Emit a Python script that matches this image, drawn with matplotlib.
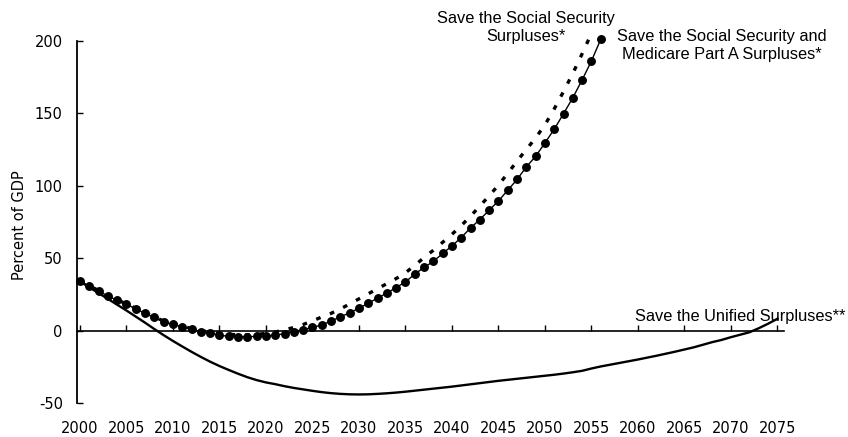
import numpy as np
import matplotlib
matplotlib.use("Agg")
import matplotlib.pyplot as plt

plt.rcParams['axes.unicode_minus'] = False

# Save the Social Security and Medicare Part A Surpluses (solid, with markers)
years_ssmed = np.arange(2000, 2057)
debt_ssmed = [34.4, 30.8, 27.6, 23.9, 21.1, 18.2, 15.2, 12.0, 9.2, 6.2,
              4.4, 2.8, 0.9, -0.8, -1.6, -3.1, -3.8, -4.1, -4.2, -3.8,
              -3.7, -3.0, -2.0, -0.6, 0.8, 2.3, 4.0, 6.7, 9.6, 12.4,
              15.5, 19.0, 22.5, 26.0, 29.8, 33.7, 39.0, 43.7, 47.8, 53.3,
              58.5, 64.3, 70.9, 76.7, 83.1, 89.5, 96.9, 104.3, 113.0, 120.3,
              129.5, 139.0, 149.7, 160.7, 173.0, 186.0, 201.0]

# Save the Social Security Surpluses (dotted)
years_ss = np.arange(2000, 2056)
debt_ss = [34.6, 31.0, 27.8, 24.2, 21.4, 18.5, 15.5, 12.4, 9.6, 6.7,
           5.0, 3.3, 1.5, 0.0, -0.8, -1.8, -2.4, -2.8, -2.8, -2.5,
           -1.8, -0.8, 0.6, 2.3, 4.3, 6.8, 9.5, 12.0, 15.0, 18.5,
           22.0, 25.5, 29.0, 32.5, 36.0, 40.0, 45.0, 50.5, 55.5, 61.0,
           66.5, 72.5, 79.0, 86.0, 93.0, 100.5, 108.5, 117.0, 125.0, 133.0,
           142.0, 153.0, 165.0, 177.5, 191.0, 205.0]

# Save the Unified Surpluses (solid)
years_uni = np.arange(2000, 2076)
debt_uni = [34.0, 30.0, 26.0, 22.0, 18.0, 14.0, 9.8, 5.6, 1.2, -3.0,
            -7.0, -10.8, -14.5, -18.0, -21.3, -24.3, -27.0, -29.6, -32.0, -34.0,
            -35.6, -36.8, -38.2, -39.4, -40.4, -41.4, -42.3, -43.0, -43.5, -43.8,
            -43.9, -43.8, -43.5, -43.1, -42.6, -42.0, -41.3, -40.6, -39.9, -39.2,
            -38.5, -37.7, -36.9, -36.1, -35.3, -34.5, -33.8, -33.1, -32.4, -31.7,
            -31.0, -30.3, -29.5, -28.6, -27.6, -26.0, -24.6, -23.4, -22.2, -21.0,
            -19.8, -18.5, -17.2, -15.8, -14.4, -12.9, -11.4, -9.6, -7.8, -6.3,
            -4.4, -2.7, -1.0, 1.8, 4.9, 8.3]

xticks = np.arange(2000, 2076, 5)
yticks = [-50, 0, 50, 100, 150, 200]

fig = plt.figure(figsize=(8.48, 4.37), dpi=100)
ax = fig.add_axes([0.0904, 0.0771, 0.8341, 0.8298])

ax.plot(years_uni, debt_uni, color='black', lw=1.7, zorder=2, clip_on=False)
ax.plot(years_ss, debt_ss, color='black', lw=2.4, linestyle=(0, (1.4, 3.0)), zorder=3, clip_on=False)
ax.plot(years_ssmed, debt_ssmed, color='black', lw=1.0, marker='o', markersize=5.4, zorder=4, clip_on=False)

ax.set_xlim(1999.65, 2075.7)
ax.set_ylim(-50, 200)

for s in ['top', 'right']:
    ax.spines[s].set_visible(False)
ax.spines['bottom'].set_position(('data', 0))
ax.spines['bottom'].set_linewidth(1.2)
ax.spines['left'].set_linewidth(1.3)

ax.set_yticks(yticks)
ax.tick_params(axis='y', direction='in', length=4, width=1, pad=10, labelsize=10.5)
ax.set_xticks(xticks)
ax.tick_params(axis='x', direction='in', length=4, width=1, labelbottom=False)

sec = ax.secondary_xaxis('bottom')
sec.set_xticks(xticks)
sec.spines['bottom'].set_visible(False)
sec.tick_params(length=0, pad=12.5, labelsize=10.5)

for lab in ax.get_yticklabels() + sec.get_xticklabels():
    lab.set_family('DejaVu Sans')

ax.set_ylabel('Percent of GDP', fontsize=10.5, family='DejaVu Sans')
ax.yaxis.set_label_coords(-0.070, 0.49)

tfont = dict(family='Liberation Sans', fontsize=11.8, color='black')
ax.text(2048.0, 209, 'Save the Social Security\nSurpluses*', ha='center', va='center',
        linespacing=1.25, **tfont)
ax.text(2069.0, 197, 'Save the Social Security and\nMedicare Part A Surpluses*', ha='center',
        va='center', linespacing=1.25, **tfont)
ax.text(2082.3, 7, 'Save the Unified Surpluses**', ha='right', va='baseline', **tfont)

fig.savefig('out.png', dpi=100)
